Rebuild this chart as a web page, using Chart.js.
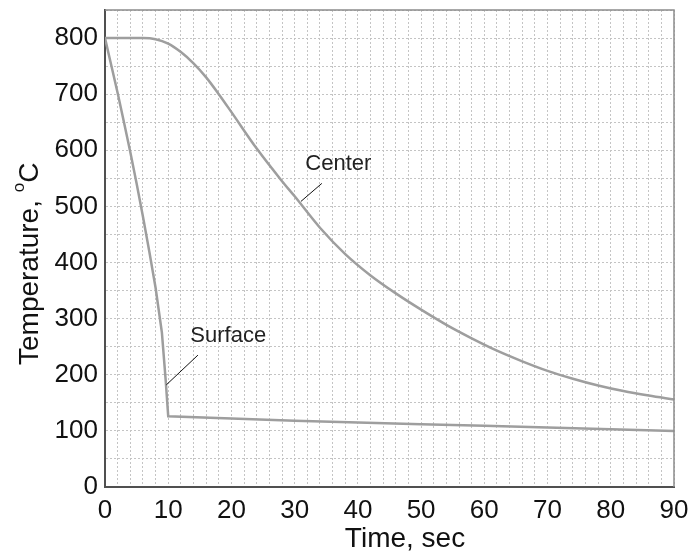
<!DOCTYPE html>
<html>
<head>
<meta charset="utf-8">
<script src="https://cdn.jsdelivr.net/npm/chart.js@4.4.1/dist/chart.umd.min.js"></script>
<style>
  body { margin: 0; background: #fff; }
  #wrap { width: 689px; height: 556px; }
</style>
</head>
<body>
<div id="wrap"><canvas id="coolingChart" width="689" height="556"></canvas></div>
<script>
// Temperature readings (deg C)
const centerTimes = [0, 6, 8, 10, 12, 14, 16, 18, 20, 24, 28, 30, 34, 38, 42, 46, 50, 54, 58, 62, 66, 70, 74, 78, 82, 86, 90];
const centerTemps = [800, 800, 798, 790, 775, 755, 730, 700, 668, 603, 545, 518, 462, 415, 377, 345, 316, 289, 265, 243, 224, 207, 193, 181, 171, 163, 156];

const surfaceTimes = [0, 1, 2, 3, 4, 5, 6, 7, 8, 9, 9.6, 10, 20, 30, 40, 50, 60, 70, 80, 90];
const surfaceTemps = [800, 751, 702, 650, 597, 541, 482, 420, 355, 275, 190, 126, 122, 118, 115, 112, 109, 106, 103, 100];

// Axis ranges and labels
const timeMax = 90;
const tempMax = 850;
const xTitle = 'Time, sec';
const yTitle = 'Temperature, ';
const yUnitSup = 'o';
const yUnit = 'C';

// Curve labels with leader lines (in data units)
const curveLabels = [
    { text: 'Center', at: [36.9, 576], from: [31.0, 509], to: [34.3, 541] },
    { text: 'Surface', at: [19.5, 269], from: [9.7, 182], to: [14.7, 235] }
];

function toPoints(xs, ys) {
    return xs.map((x, i) => ({ x: x, y: ys[i] }));
}

const FONT = "'Liberation Sans', Arial, sans-serif";

// Draws the frame, axis titles and the curve labels
const decorPlugin = {
    id: 'decor',
    afterDraw(chart) {
        const ctx = chart.ctx;
        const area = chart.chartArea;
        const xs = chart.scales.x;
        const ys = chart.scales.y;

        // top and right frame
        ctx.save();
        ctx.strokeStyle = '#8c8c8c';
        ctx.lineWidth = 1.5;
        ctx.beginPath();
        ctx.moveTo(area.left, area.top);
        ctx.lineTo(area.right, area.top);
        ctx.lineTo(area.right, area.bottom);
        ctx.stroke();
        ctx.restore();

        // curve labels
        ctx.save();
        ctx.fillStyle = '#222';
        ctx.strokeStyle = '#111';
        ctx.lineWidth = 1;
        ctx.font = '22px ' + FONT;
        ctx.textAlign = 'center';
        ctx.textBaseline = 'middle';
        curveLabels.forEach(lbl => {
            ctx.fillText(lbl.text, xs.getPixelForValue(lbl.at[0]), ys.getPixelForValue(lbl.at[1]));
            ctx.beginPath();
            ctx.moveTo(xs.getPixelForValue(lbl.from[0]), ys.getPixelForValue(lbl.from[1]));
            ctx.lineTo(xs.getPixelForValue(lbl.to[0]), ys.getPixelForValue(lbl.to[1]));
            ctx.stroke();
        });
        ctx.restore();

        // x title
        ctx.save();
        ctx.fillStyle = '#111';
        ctx.font = '28px ' + FONT;
        ctx.textAlign = 'center';
        ctx.textBaseline = 'alphabetic';
        ctx.fillText(xTitle, 405, 547);
        ctx.restore();

        // y title with superscript
        ctx.save();
        ctx.fillStyle = '#111';
        ctx.translate(38, 365);
        ctx.rotate(-Math.PI / 2);
        ctx.textAlign = 'left';
        ctx.textBaseline = 'alphabetic';
        ctx.font = '28px ' + FONT;
        ctx.fillText(yTitle, 0, 0);
        let w = ctx.measureText(yTitle).width;
        ctx.font = '17px ' + FONT;
        ctx.fillText(yUnitSup, w, -14);
        w += ctx.measureText(yUnitSup).width;
        ctx.font = '28px ' + FONT;
        ctx.fillText(yUnit, w, 0);
        ctx.restore();
    }
};

const gridColor = '#c4c4c4';

new Chart(document.getElementById('coolingChart').getContext('2d'), {
    type: 'scatter',
    data: {
        datasets: [
            {
                label: 'Center',
                data: toPoints(centerTimes, centerTemps),
                showLine: true,
                borderColor: '#9e9e9e',
                borderWidth: 2.5,
                pointRadius: 0,
                cubicInterpolationMode: 'monotone'
            },
            {
                label: 'Surface',
                data: toPoints(surfaceTimes, surfaceTemps),
                showLine: true,
                borderColor: '#9e9e9e',
                borderWidth: 2.5,
                pointRadius: 0,
                tension: 0
            }
        ]
    },
    options: {
        responsive: false,
        animation: false,
        layout: { padding: { top: 10, right: 15, left: 0, bottom: 0 } },
        plugins: {
            legend: { display: false },
            tooltip: { enabled: false }
        },
        scales: {
            x: {
                type: 'linear',
                min: 0,
                max: timeMax,
                grid: { color: gridColor, lineWidth: 1, drawTicks: false },
                border: { color: '#505050', width: 2, dash: [2, 2] },
                ticks: {
                    stepSize: 2,
                    autoSkip: false,
                    maxRotation: 0,
                    padding: 8,
                    color: '#111',
                    font: { family: FONT, size: 26 },
                    callback: v => (v % 10 === 0 ? v : '')
                },
                afterFit: s => { s.height = 69; s.paddingLeft = 0; s.paddingRight = 0; }
            },
            y: {
                type: 'linear',
                min: 0,
                max: tempMax,
                grid: { color: gridColor, lineWidth: 1, drawTicks: false },
                border: { color: '#505050', width: 2, dash: [2, 2] },
                ticks: {
                    stepSize: 50,
                    autoSkip: false,
                    padding: 7,
                    color: '#111',
                    font: { family: FONT, size: 26 },
                    callback: v => (v % 100 === 0 ? v : '')
                },
                afterFit: s => { s.width = 105; s.paddingTop = 0; s.paddingBottom = 0; }
            }
        }
    },
    plugins: [decorPlugin]
});
</script>
</body>
</html>
